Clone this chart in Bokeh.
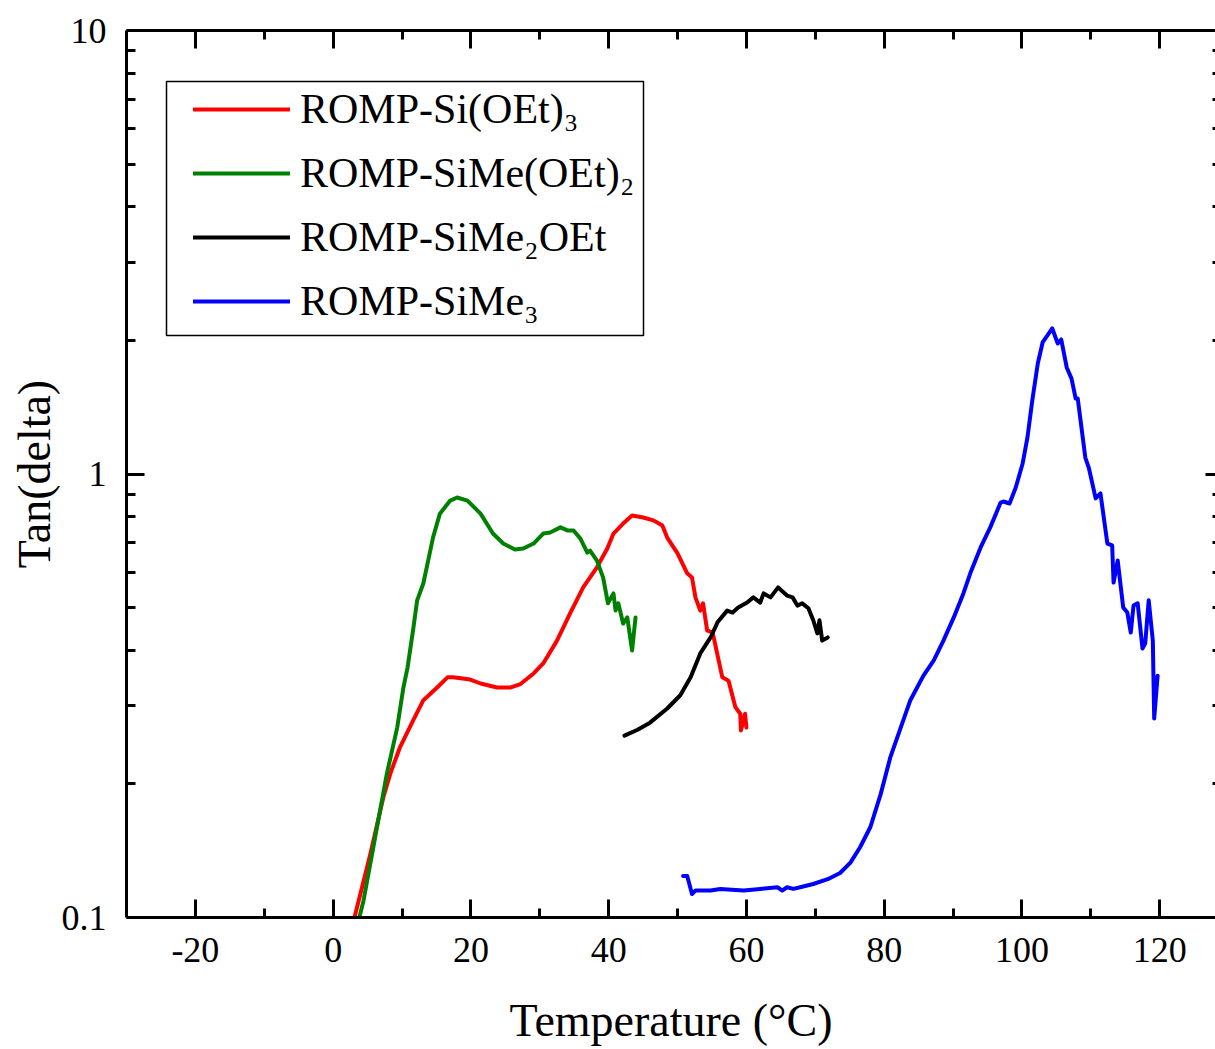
from bokeh.plotting import figure
from bokeh.models import (FixedTicker, LinearAxis, LogAxis, Legend, LegendItem,
                          BoxAnnotation, CustomJSTickFormatter)
from bokeh.embed import file_html
from bokeh.resources import INLINE

# ---------------- data ----------------
red_T = [3.1, 5.4, 7.3, 8.3, 9.7, 11.6, 13.1, 15.1, 16.6, 17.4, 19.9, 21.4, 23.8, 25.7, 27.2,
         29.1, 30.5, 32.5, 34.4, 36.3, 38.3, 39.8, 40.7, 42.1, 43.4, 45.0, 46.5, 47.8, 48.5,
         50.0, 51.4, 52.1, 52.6, 53.3, 53.7, 54.3, 55.1, 56.5, 57.4, 58.4, 59.1, 59.2, 59.8, 60.0]
red_v = [0.100, 0.139, 0.187, 0.211, 0.242, 0.278, 0.309, 0.330, 0.348, 0.348, 0.344, 0.337,
         0.330, 0.330, 0.336, 0.355, 0.374, 0.421, 0.485, 0.555, 0.616, 0.679, 0.734, 0.773,
         0.806, 0.798, 0.786, 0.765, 0.719, 0.662, 0.597, 0.584, 0.527, 0.492, 0.511, 0.444,
         0.439, 0.348, 0.342, 0.298, 0.288, 0.264, 0.288, 0.268]

green_T = [3.8, 4.4, 7.8, 9.3, 10.2, 10.8, 11.6, 12.2, 13.1, 14.5, 15.5, 17.0, 18.0, 19.5,
           21.4, 23.2, 24.7, 26.4, 27.6, 29.1, 30.5, 31.5, 33.0, 34.0, 34.9, 35.9, 36.9, 37.3,
           38.3, 39.2, 39.9, 40.7, 41.0, 41.4, 42.1, 42.7, 43.4, 43.9]
green_v = [0.100, 0.109, 0.211, 0.268, 0.330, 0.366, 0.444, 0.519, 0.567, 0.719, 0.814, 0.871,
           0.885, 0.871, 0.814, 0.734, 0.697, 0.676, 0.679, 0.697, 0.734, 0.738, 0.758, 0.746,
           0.746, 0.715, 0.665, 0.672, 0.638, 0.584, 0.511, 0.538, 0.492, 0.511, 0.460, 0.475,
           0.400, 0.475]

black_T = [42.3, 44.2, 46.0, 48.5, 50.4, 51.9, 53.3, 54.8, 55.8, 57.2, 58.0, 58.8, 60.1, 61.0,
           62.0, 62.5, 63.5, 64.6, 65.9, 66.7, 67.4, 68.1, 69.0, 69.7, 70.3, 70.6, 71.0, 71.8]
black_v = [0.257, 0.265, 0.275, 0.296, 0.317, 0.348, 0.394, 0.428, 0.463, 0.492, 0.487, 0.500,
           0.513, 0.527, 0.513, 0.538, 0.527, 0.555, 0.532, 0.527, 0.505, 0.511, 0.498, 0.468,
           0.437, 0.468, 0.421, 0.428]

blue_T = [50.8, 51.4, 52.1, 52.6, 54.8, 56.2, 59.6, 62.0, 64.5, 65.2, 65.9, 66.8, 67.8, 69.7,
          71.8, 73.6, 75.1, 76.5, 78.0, 79.5, 80.9, 82.4, 83.8, 85.7, 87.2, 88.6, 90.1, 91.5,
          92.5, 94.0, 95.4, 96.9, 97.3, 98.2, 99.1, 100.1, 100.8, 101.5, 102.3, 103.0, 104.4,
          105.2, 105.7, 106.5, 107.2, 107.8, 108.1, 109.2, 109.7, 110.7, 111.4, 112.4, 113.1,
          113.3, 113.9, 114.7, 115.3, 115.8, 116.2, 116.8, 117.5, 117.9, 118.4, 119.0, 119.2, 119.7]
blue_v = [0.124, 0.124, 0.113, 0.115, 0.115, 0.116, 0.115, 0.116, 0.117, 0.115, 0.117, 0.116,
          0.117, 0.119, 0.122, 0.126, 0.133, 0.144, 0.160, 0.190, 0.230, 0.268, 0.309, 0.351,
          0.380, 0.421, 0.475, 0.538, 0.597, 0.683, 0.758, 0.862, 0.867, 0.858, 0.932, 1.056,
          1.209, 1.465, 1.775, 1.980, 2.129, 1.969, 2.011, 1.739, 1.641, 1.480, 1.480, 1.089,
          1.034, 0.881, 0.904, 0.697, 0.690, 0.569, 0.638, 0.500, 0.487, 0.439, 0.505, 0.511,
          0.404, 0.415, 0.519, 0.421, 0.281, 0.351]

series_labels = ["ROMP-Si(OEt)\u2083", "ROMP-SiMe(OEt)\u2082", "ROMP-SiMe\u2082OEt", "ROMP-SiMe\u2083"]
series_colors = ["#FF0000", "#008000", "#000000", "#0000FF"]

x_major = [-20, 0, 20, 40, 60, 80, 100, 120]
x_minor = [-10, 10, 30, 50, 70, 90, 110]
y_major = [0.1, 1, 10]
y_minor = [0.2, 0.3, 0.4, 0.5, 0.6, 0.7, 0.8, 0.9, 2, 3, 4, 5, 6, 7, 8, 9]

x_label = "Temperature (\u00b0C)"
y_label = "Tan(delta)"

FONT = "Liberation Serif"

p = figure(width=1215, height=1049, x_range=(-30, 128.1), y_range=(0.1, 10),
           y_axis_type="log", output_backend="svg", toolbar_location=None,
           min_border_left=126, min_border_right=0, min_border_top=30, min_border_bottom=132)
p.outline_line_color = None
p.background_fill_color = "white"
p.border_fill_color = "white"
p.xgrid.visible = False
p.ygrid.visible = False

def style_axis(ax):
    ax.axis_line_width = 3
    ax.axis_line_color = "black"
    ax.major_tick_line_width = 3
    ax.minor_tick_line_width = 3
    ax.major_tick_in = 18
    ax.major_tick_out = 0
    ax.minor_tick_in = 9
    ax.minor_tick_out = 0
    ax.major_label_text_font = FONT
    ax.major_label_text_font_size = "36px"
    ax.major_label_text_color = "black"
    ax.axis_label_text_font = FONT
    ax.axis_label_text_font_size = "46px"
    ax.axis_label_text_font_style = "normal"
    ax.axis_label_text_color = "black"

xb = p.xaxis[0]
xb.ticker = FixedTicker(ticks=x_major, minor_ticks=x_minor)
xb.formatter = CustomJSTickFormatter(code="return tick.toFixed(0);")
style_axis(xb)
xb.major_label_standoff = 20
xb.axis_label = x_label
xb.axis_label_standoff = 30

yl = p.yaxis[0]
yl.ticker = FixedTicker(ticks=y_major, minor_ticks=y_minor)
yl.formatter = CustomJSTickFormatter(code="return tick >= 1 ? tick.toFixed(0) : tick.toFixed(1);")
style_axis(yl)
yl.major_label_standoff = 20
yl.axis_label = y_label
yl.axis_label_standoff = -1

blank = CustomJSTickFormatter(code="return '';")
xt = LinearAxis(ticker=FixedTicker(ticks=x_major, minor_ticks=x_minor), formatter=blank)
style_axis(xt)
xt.major_label_text_font_size = "1px"
xt.major_label_standoff = 0
p.add_layout(xt, "above")

# right axis sits just beyond the picture's edge in the reference: only tick stubs show
yr = LogAxis(ticker=FixedTicker(ticks=y_major, minor_ticks=y_minor), formatter=blank)
style_axis(yr)
yr.axis_line_color = None
yr.major_tick_in = 10
yr.minor_tick_in = 3
yr.major_label_text_font_size = "1px"
yr.major_label_standoff = 0
p.add_layout(yr, "right")

renderers = []
for xs, ys, c in [(red_T, red_v, series_colors[0]), (green_T, green_v, series_colors[1]),
                  (black_T, black_v, series_colors[2]), (blue_T, blue_v, series_colors[3])]:
    r = p.line(xs, ys, line_color=c, line_width=4, line_join="round", line_cap="round")
    renderers.append(r)

# legend frame
box = BoxAnnotation(left=166, right=643, top=81, bottom=335,
                    left_units="canvas", right_units="canvas",
                    top_units="canvas", bottom_units="canvas",
                    fill_color="white", fill_alpha=1.0,
                    line_color="black", line_width=1.5, line_alpha=1.0)
p.add_layout(box)

items = [LegendItem(label=lab, renderers=[r]) for lab, r in zip(series_labels, renderers)]
leg = Legend(items=items, location=(67, 592))
leg.padding = 0
leg.margin = 0
leg.spacing = 16
leg.glyph_width = 97
leg.glyph_height = 46
leg.label_height = 46
leg.label_standoff = 10
leg.label_text_font = FONT
leg.label_text_font_size = "42px"
leg.label_text_color = "black"
leg.border_line_alpha = 0
leg.background_fill_alpha = 0
p.add_layout(leg)

open("out.html", "w").write(file_html(p, INLINE))
